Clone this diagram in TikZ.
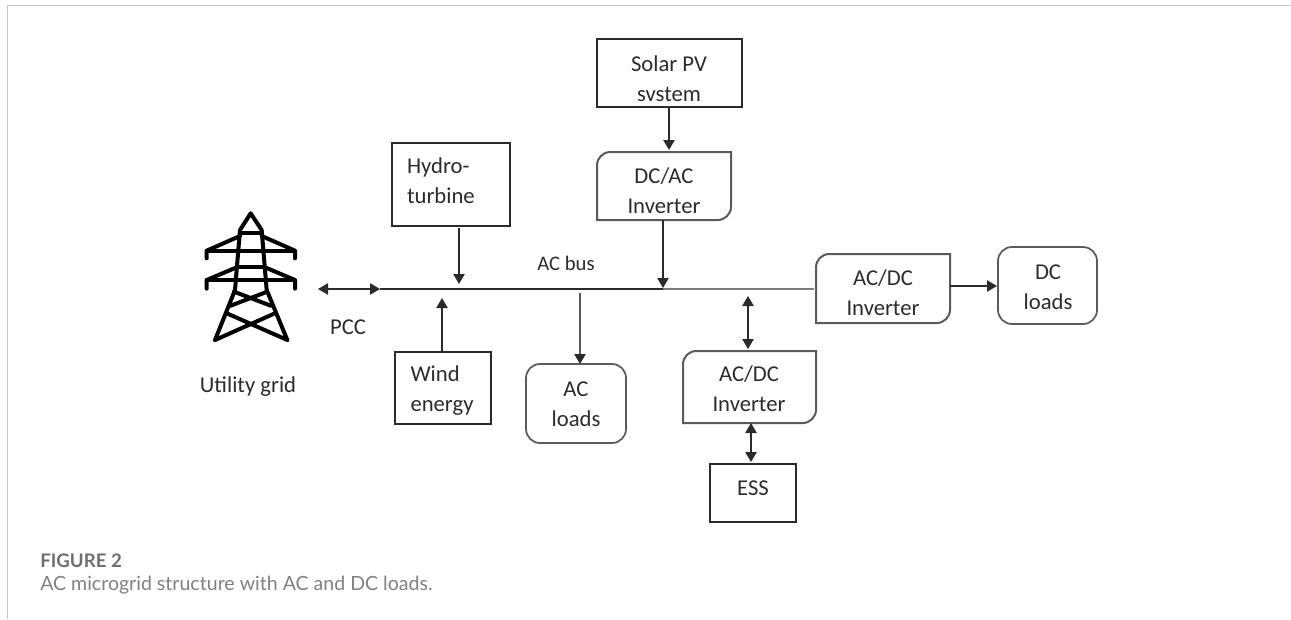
\documentclass[tikz,border=0pt]{standalone}
\usepackage{fontspec}
\setmainfont{Carlito}
\newfontfamily\capfont{Lato}
\usetikzlibrary{arrows.meta,calc}
\definecolor{ink}{HTML}{2B2B2B}
\definecolor{frame}{HTML}{5A5A5A}
\definecolor{rulegray}{HTML}{C8C8C8}
\definecolor{capgray}{HTML}{6E6E6E}
\definecolor{capbody}{HTML}{808080}
\tikzset{
  sq/.style={draw=ink,line width=1.15pt,inner sep=0pt,outer sep=0pt},
  rnd/.style={draw=frame,line width=1.3pt,rounded corners=10.5pt,inner sep=0pt,outer sep=0pt},
  inv/.style={inner sep=0pt,outer sep=0pt},
  invline/.style={draw=frame,line width=1.5pt},
  lab/.style={inner sep=0pt,outer sep=0pt,align=center,text=ink,font=\fontsize{17}{22.5}\selectfont},
  labl/.style={lab,align=left,anchor=west},
  conn/.style={draw=ink,line width=1.1pt},
  one/.style={conn,-{Triangle[length=7.5pt,width=8.5pt]}},
  two/.style={conn,{Triangle[length=7.5pt,width=8.5pt]}-{Triangle[length=7.5pt,width=8.5pt]}},
  tower/.style={draw=black,line width=3pt,line cap=round,line join=round}
}
\newcommand{\invframe}[1]{%
  \draw[invline] (#1.south west) [rounded corners=10pt] -- (#1.north west) [sharp corners] -- (#1.north east) [rounded corners=10pt] -- (#1.south east) [sharp corners] -- cycle;}
\begin{document}
\begin{tikzpicture}[x=0.75pt,y=-0.75pt]
\useasboundingbox (0,0) rectangle (1291,619);
% page rules
\coordinate (ruleA) at (7.5,619);
\coordinate (ruleB) at (7.5,5.5);
\coordinate (ruleC) at (1291,5.5);
\draw[rulegray,line width=1.3pt] (ruleA) -- (ruleB) -- (ruleC);
% boxes
\node[sq,minimum width=108.75pt,minimum height=51pt] (solar) at (669.5,73) {};
\node[lab] (solarT) at (669,79) {Solar PV\\svstem};
\node[inv,minimum width=100.5pt,minimum height=51pt] (dcac) at (664,186) {};
\invframe{dcac}
\node[lab] (dcacT) at (664,190.5) {DC/AC\\Inverter};
\node[sq,minimum width=88.5pt,minimum height=62.25pt] (hydro) at (451,184.5) {};
\node[labl] (hydroT) at (407,180.5) {Hydro-\\turbine};
\node[sq,minimum width=72pt,minimum height=54pt] (wind) at (443,388) {};
\node[labl] (windT) at (410.5,391) {Wind\\energy};
\node[rnd,minimum width=75pt,minimum height=59.25pt] (acl) at (576,403.5) {};
\node[lab] (aclT) at (576,404.5) {AC\\loads};
\node[inv,minimum width=100.5pt,minimum height=51.75pt] (acdcA) at (883,288.5) {};
\invframe{acdcA}
\node[lab] (acdcAT) at (883,293) {AC/DC\\Inverter};
\node[rnd,minimum width=74.25pt,minimum height=57.75pt] (dcl) at (1047.5,285.5) {};
\node[lab] (dclT) at (1048,287.5) {DC\\loads};
\node[inv,minimum width=99.75pt,minimum height=54pt] (acdcB) at (749.5,387) {};
\invframe{acdcB}
\node[lab] (acdcBT) at (749,389) {AC/DC\\Inverter};
\node[sq,minimum width=64.5pt,minimum height=43.5pt] (ess) at (753,493) {};
\node[lab] (essT) at (753,488) {ESS};
% free labels
\node[lab] (pcc) at (348,327) {PCC};
\node[lab] (util) at (248,387) {Utility grid};
\node[lab,font=\fontsize{15.5}{20}\selectfont] (busT) at (566,263) {AC bus};
% bus and tie
\coordinate (busL) at (380,289);
\coordinate (busM) at (663,289);
\coordinate (busR) at (814,289);
\coordinate (pccL) at (318,289);
\draw[two] (pccL) -- (busL);
\draw[ink,line width=1.1pt] (busL) -- (busM);
\draw[frame!80,line width=1.4pt] (busM) -- (busR);
% connectors
\coordinate (hydroS) at (459,228);
\coordinate (hydroE) at (459,284);
\draw[one] (hydroS) -- (hydroE);
\coordinate (windS) at (442,352);
\coordinate (windE) at (442,298);
\draw[one] (windS) -- (windE);
\coordinate (dcacS) at (663,220);
\coordinate (dcacE) at (663,288);
\draw[one] (dcacS) -- (dcacE);
\coordinate (solarS) at (669,107);
\coordinate (solarE) at (669,150);
\draw[one] (solarS) -- (solarE);
\coordinate (aclS) at (580,293);
\coordinate (aclE) at (580,364);
\draw[conn,draw=frame,line width=1.7pt] (aclS) -- (580,356);
\draw[one] (580,354) -- (aclE);
\coordinate (acdcTop) at (748,296);
\coordinate (acdcBot) at (748,349);
\draw[two] (acdcTop) -- (acdcBot);
\coordinate (essTop) at (751,423);
\coordinate (essBot) at (751,462);
\draw[two] (essTop) -- (essBot);
\coordinate (dcS) at (950,286);
\coordinate (dcE) at (997,286);
\draw[one] (dcS) -- (dcE);
% pylon
\begin{scope}[shift={(160,190)},x=0.25pt,y=-0.25pt]
\draw[tower] (165,450) -- (225,300) -- (240,120) -- (272,70) -- (305,120) -- (320,300) -- (382,450);
\draw[tower] (240,130) -- (305,130);
\draw[tower] (140,205) -- (140,182) -- (240,138);
\draw[tower] (405,205) -- (405,182) -- (305,138);
\draw[tower] (140,182) -- (405,182);
\draw[tower] (140,296) -- (140,270) -- (230,232);
\draw[tower] (405,296) -- (405,270) -- (315,232);
\draw[tower] (140,270) -- (405,270);
\draw[tower] (232,232) -- (312,232);
\draw[tower] (222,305) -- (332,347);
\draw[tower] (322,305) -- (212,347);
\draw[tower] (205,372) -- (382,450);
\draw[tower] (340,372) -- (165,450);
\end{scope}
% caption
\node[inner sep=0pt,anchor=west,text=capgray,font=\capfont\bfseries\fontsize{14}{16}\selectfont] (capA) at (40,561) {FIGURE 2};
\node[inner sep=0pt,anchor=west,text=capbody,font=\capfont\fontsize{14.66}{16}\selectfont] (capB) at (40,585) {AC microgrid structure with AC and DC loads.};
\end{tikzpicture}
\end{document}
